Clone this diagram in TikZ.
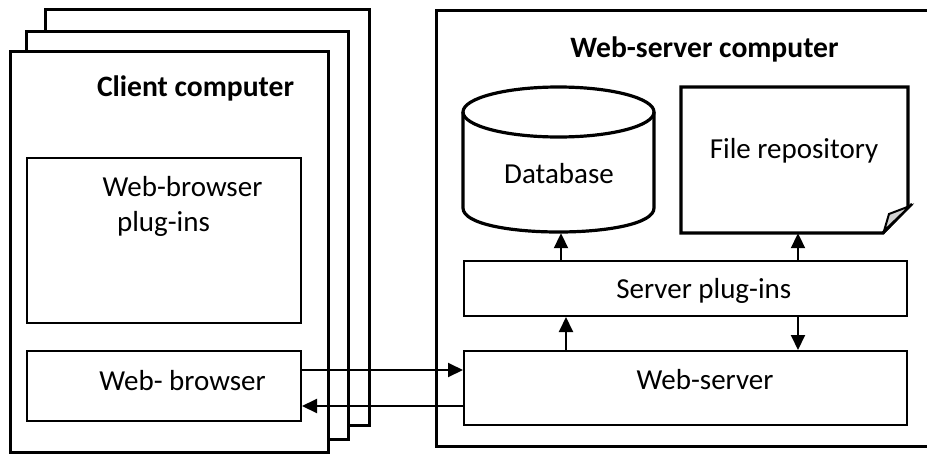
\documentclass[tikz,border=0pt]{standalone}
\usepackage{fontspec}
\setmainfont{Carlito}
\usetikzlibrary{arrows.meta,calc}
\begin{document}
\begin{tikzpicture}[x=1pt,y=-1pt,
  outer/.style={draw,line width=3pt,fill=white,rectangle,inner sep=0pt},
  inner/.style={draw,line width=2pt,fill=white,rectangle,inner sep=0pt},
  lbl/.style={anchor=base,inner sep=0pt,font=\fontsize{29}{34}\selectfont},
  ttl/.style={anchor=base,inner sep=0pt,font=\fontsize{29.6}{34}\selectfont\bfseries},
  arr/.style={line width=2pt,-{Triangle[length=15pt,width=14pt]}},
  solid3/.style={line width=3.2pt,line join=miter}]
\useasboundingbox (0,0) rectangle (927,453);
\clip (0,0) rectangle (927,453);
% client stack
\node[outer,minimum width=324pt,minimum height=416pt] (c3) at (207,217) {};
\node[outer,minimum width=322pt,minimum height=408pt] (c2) at (187,235) {};
\node[outer,minimum width=318pt,minimum height=401pt] (c1) at (169,251.5) {};
\node[ttl] (ctitle) at (195.5,96) {Client computer};
\node[inner,minimum width=274pt,minimum height=165pt] (pb) at (164,240.5) {};
\node[lbl] (pbt1) at (182.5,196) {Web-browser};
\node[lbl] (pbt2) at (163.5,231) {plug-ins};
\node[inner,minimum width=274pt,minimum height=70pt] (wb) at (164,386) {};
\node[lbl] (wbt) at (182.5,390) {Web- browser};
% server computer
\node[outer,minimum width=500pt,minimum height=436pt] (srv) at (686,228) {};
\node[ttl] (stitle) at (704.5,57) {Web-server computer};
% database
\draw[solid3,fill=white] (463,112) -- (463,208) .. controls (463,240) and (654,240) .. (654,208) -- (654,112);
\draw[solid3] (558.5,112) ellipse [x radius=95.5, y radius=25];
\node[inner sep=0pt,minimum width=191pt,minimum height=146pt] (db) at (558.5,160) {};
\node[lbl] (dbt) at (559,183) {Database};
% file repository
\draw[solid3,fill=white] (681,87) -- (908,87) -- (908,207) -- (883,233) -- (681,233) -- cycle;
\draw[line width=2.5pt,line join=miter] (912,204) -- (883,233);
\draw[line width=2pt,fill=gray!35,line join=miter] (884,231) -- (889,214) -- (910,206) -- cycle;
\node[inner sep=0pt,minimum width=227pt,minimum height=146pt] (file) at (794.5,160) {};
\node[lbl] (filet) at (794,158) {File repository};
% server plug-ins and web-server
\node[inner,minimum width=443pt,minimum height=55pt] (sp) at (685.5,288.5) {};
\node[lbl] (spt) at (703.8,298) {Server plug-ins};
\node[inner,minimum width=443pt,minimum height=74pt] (ws) at (685.5,388) {};
\node[lbl] (wst) at (705,389) {Web-server};
% connectors
\draw[arr] ([xshift=2.5pt]sp.north -| db.south) -- ([xshift=2.5pt]db.south);
\draw[arr] ([xshift=3.5pt]sp.north -| file.south) -- ([xshift=3.5pt]file.south);
\draw[arr] ($(ws.north west)+(103,0)$) -- ($(sp.south west)+(103,0)$);
\draw[arr] ([xshift=3.5pt]sp.south -| file.south) -- ([xshift=3.5pt]ws.north -| file.south);
\draw[arr] ([yshift=16pt]wb.east) -- ([yshift=16pt]wb.east -| ws.west);
\draw[arr] ([yshift=-20pt]wb.east -| ws.west) -- ([yshift=-20pt]wb.east);
\end{tikzpicture}
\end{document}
